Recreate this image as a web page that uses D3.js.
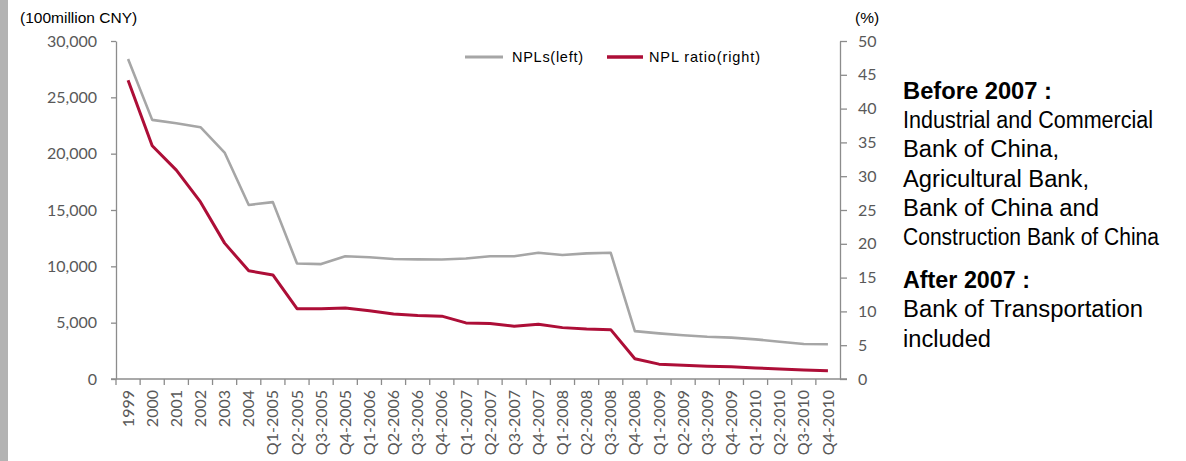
<!DOCTYPE html>
<html>
<head>
<meta charset="utf-8">
<script src="https://cdn.jsdelivr.net/npm/d3@7"></script>
<style>
    body { margin: 0; background: #fff; }
    svg { display: block; }
    .tick-label { font-family: Lato, "Open Sans", sans-serif; font-size: 16px; fill: #595959; }
    .arial { font-family: "Liberation Sans", Arial, sans-serif; fill: #000; }
</style>
</head>
<body>
<svg id="chart" width="1186" height="461"></svg>
<script>
const categories = [
    "1999", "2000", "2001", "2002", "2003", "2004",
    "Q1-2005", "Q2-2005", "Q3-2005", "Q4-2005",
    "Q1-2006", "Q2-2006", "Q3-2006", "Q4-2006",
    "Q1-2007", "Q2-2007", "Q3-2007", "Q4-2007",
    "Q1-2008", "Q2-2008", "Q3-2008", "Q4-2008",
    "Q1-2009", "Q2-2009", "Q3-2009", "Q4-2009",
    "Q1-2010", "Q2-2010", "Q3-2010", "Q4-2010"
];
// NPLs, 100 million CNY (left axis)
const npls = [
    28400, 23000, 22700, 22350, 20100, 15450,
    15700, 10250, 10200, 10900,
    10800, 10650, 10620, 10600,
    10700, 10900, 10900, 11200,
    11000, 11150, 11200, 4250,
    4050, 3880, 3750, 3670,
    3520, 3310, 3100, 3080
];
// NPL ratio, % (right axis)
const nplRatio = [
    44.2, 34.5, 30.9, 26.2, 20.1, 16.0,
    15.4, 10.4, 10.4, 10.5,
    10.1, 9.6, 9.4, 9.3,
    8.3, 8.2, 7.8, 8.1,
    7.6, 7.4, 7.3, 3.0,
    2.2, 2.05, 1.9, 1.8,
    1.63, 1.48, 1.33, 1.23
];
const leftTicks = [0, 5000, 10000, 15000, 20000, 25000, 30000];
const rightTicks = [0, 5, 10, 15, 20, 25, 30, 35, 40, 45, 50];
const notes = [
    { text: "Before 2007 :", bold: true, len: 149 },
    { text: "Industrial and  Commercial", len: 250 },
    { text: "Bank of China,", len: 156 },
    { text: "Agricultural Bank,", len: 186 },
    { text: "Bank of China and", len: 196 },
    { text: "Construction Bank of China", len: 256 },
    { text: "After 2007 :", bold: true, len: 127, gap: 14 },
    { text: "Bank of Transportation", len: 240 },
    { text: "included", len: 88 }
];

const svg = d3.select("#chart");
const axisColor = "#8c8c8c";
const grayColor = "#a6a6a6";
const redColor = "#ad0e37";

// left edge band
svg.append("rect")
    .attr("x", 0).attr("y", 0)
    .attr("width", 8).attr("height", 461)
    .attr("fill", "#b3b3b3");

const x = d3.scaleBand().domain(categories).range([116, 840]);
const yLeft = d3.scaleLinear().domain([0, 30000]).range([379, 41]);
const yRight = d3.scaleLinear().domain([0, 50]).range([379, 41]);
const cx = (d) => x(d) + x.bandwidth() / 2;

function styleAxis(g) {
    g.select(".domain").attr("stroke", axisColor).attr("stroke-width", 1.3);
    g.selectAll(".tick line").attr("stroke", axisColor).attr("stroke-width", 1.3);
    g.selectAll(".tick text").attr("class", "tick-label");
}

svg.append("g")
    .attr("transform", "translate(116,0)")
    .call(d3.axisLeft(yLeft).tickValues(leftTicks).tickFormat(d3.format(",")).tickSize(5).tickSizeOuter(0).tickPadding(14))
    .call(styleAxis);

svg.append("g")
    .attr("transform", "translate(840,0)")
    .call(d3.axisRight(yRight).tickValues(rightTicks).tickSize(7).tickSizeOuter(0).tickPadding(11))
    .call(styleAxis);

// x axis: line + boundary ticks + rotated labels
const xAxis = svg.append("g");
xAxis.append("line")
    .attr("x1", 111).attr("x2", 847)
    .attr("y1", 379).attr("y2", 379)
    .attr("stroke", axisColor).attr("stroke-width", 1.3);
xAxis.selectAll(".xtick")
    .data(categories)
    .enter()
    .append("line")
    .attr("class", "xtick")
    .attr("x1", (d) => x(d)).attr("x2", (d) => x(d))
    .attr("y1", 379).attr("y2", 385)
    .attr("stroke", axisColor).attr("stroke-width", 1.3);
xAxis.selectAll(".xlabel")
    .data(categories)
    .enter()
    .append("text")
    .attr("class", "tick-label")
    .attr("text-anchor", "end")
    .attr("dy", "0.35em")
    .attr("transform", (d) => `translate(${cx(d)},390) rotate(-90)`)
    .text((d) => d);

// lines
const grayLine = d3.line().x((d, i) => cx(categories[i])).y((d) => yLeft(d));
const redLine = d3.line().x((d, i) => cx(categories[i])).y((d) => yRight(d));

svg.append("path")
    .attr("d", grayLine(npls))
    .attr("fill", "none")
    .attr("stroke", grayColor)
    .attr("stroke-width", 2.6)
    .attr("stroke-linejoin", "round");
svg.append("path")
    .attr("d", redLine(nplRatio))
    .attr("fill", "none")
    .attr("stroke", redColor)
    .attr("stroke-width", 3)
    .attr("stroke-linejoin", "round");

// axis titles
svg.append("text")
    .attr("class", "arial")
    .attr("x", 20).attr("y", 23)
    .attr("font-size", 15.5)
    .text("(100million CNY)");
svg.append("text")
    .attr("class", "arial")
    .attr("x", 855).attr("y", 23)
    .attr("font-size", 15.5)
    .text("(%)");

// legend
const legend = svg.append("g").attr("transform", "translate(0,57)");
legend.append("line")
    .attr("x1", 465).attr("x2", 503)
    .attr("stroke", grayColor).attr("stroke-width", 3);
legend.append("text")
    .attr("class", "arial")
    .attr("x", 512).attr("dy", "0.35em")
    .attr("font-size", 14.5)
    .attr("textLength", 71)
    .text("NPLs(left)");
legend.append("line")
    .attr("x1", 607).attr("x2", 643)
    .attr("stroke", redColor).attr("stroke-width", 3.5);
legend.append("text")
    .attr("class", "arial")
    .attr("x", 649).attr("dy", "0.35em")
    .attr("font-size", 14.5)
    .attr("textLength", 111)
    .text("NPL ratio(right)");

// side notes
let yPos = 99;
notes.forEach((n) => {
    if (n.gap) yPos += n.gap;
    svg.append("text")
        .attr("class", "arial")
        .attr("x", 903).attr("y", yPos)
        .attr("font-size", 23)
        .attr("font-weight", n.bold ? "bold" : "normal")
        .attr("textLength", n.len)
        .attr("lengthAdjust", "spacingAndGlyphs")
        .text(n.text);
    yPos += 29.2;
});
</script>
</body>
</html>
